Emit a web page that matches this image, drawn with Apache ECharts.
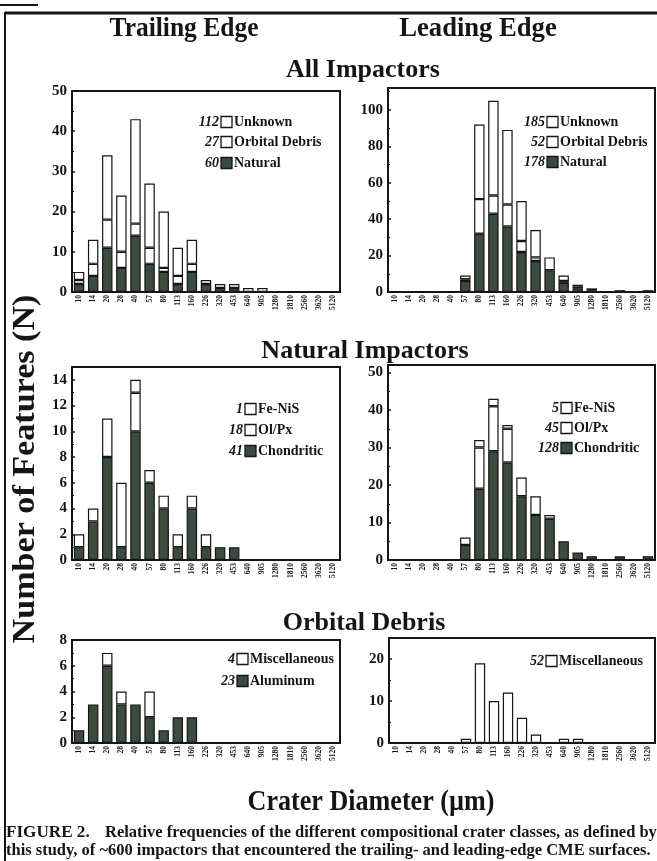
<!DOCTYPE html>
<html>
<head>
<meta charset="utf-8">
<title>Crater diameter frequencies</title>
<style>
  body { margin: 0; background: #fff; }
  #chart { width: 657px; height: 861px; }
</style>
</head>
<body>
<div id="chart"></div>
<script src="https://cdn.jsdelivr.net/npm/echarts@6/dist/echarts.min.js"></script>
<script>
// crater diameter bins (um)
const diameters = ['10', '14', '20', '28', '40', '57', '80', '113', '160', '226', '320', '453', '640', '905', '1280', '1810', '2560', '3620', '5120'];

// all impactors
const trailNatural = [2, 4, 11, 6, 14, 7, 5, 2, 5, 2, 1, 1, 0, 0, 0, 0, 0, 0, 0];
const trailDebris  = [1, 3, 7, 4, 3, 4, 1, 2, 2, 0, 0, 0, 0, 0, 0, 0, 0, 0, 0];
const trailUnknown = [2, 6, 16, 14, 26, 16, 14, 7, 6, 1, 1, 1, 1, 1, 0, 0, 0, 0, 0];
const leadNatural  = [0, 0, 0, 0, 0, 6, 32, 43, 36, 22, 17, 12, 5, 2, 1, 0, 1, 0, 1];
const leadDebris   = [0, 0, 0, 0, 0, 1, 19, 10, 12, 6, 2, 0, 1, 1, 0, 0, 0, 0, 0];
const leadUnknown  = [0, 0, 0, 0, 0, 2, 41, 52, 41, 22, 15, 7, 3, 1, 1, 0, 0, 0, 0];

// natural impactors
const trailChond = [1, 3, 8, 1, 10, 6, 4, 1, 4, 1, 1, 1, 0, 0, 0, 0, 0, 0, 0];
const trailOlPx  = [1, 1, 3, 5, 3, 1, 1, 1, 1, 1, 0, 0, 0, 0, 0, 0, 0, 0, 0];
const trailFeNiS = [0, 0, 0, 0, 1, 0, 0, 0, 0, 0, 0, 0, 0, 0, 0, 0, 0, 0, 0];
const leadChond  = [0, 0, 0, 0, 0, 4, 19, 29, 26, 17, 12, 11, 5, 2, 1, 0, 1, 0, 1];
const leadOlPx   = [0, 0, 0, 0, 0, 2, 11, 12, 9, 5, 5, 1, 0, 0, 0, 0, 0, 0, 0];
const leadFeNiS  = [0, 0, 0, 0, 0, 0, 2, 2, 1, 0, 0, 0, 0, 0, 0, 0, 0, 0, 0];

// orbital debris
const trailAl   = [1, 3, 6, 3, 3, 2, 1, 2, 2, 0, 0, 0, 0, 0, 0, 0, 0, 0, 0];
const trailMisc = [0, 0, 1, 1, 0, 2, 0, 0, 0, 0, 0, 0, 0, 0, 0, 0, 0, 0, 0];
const leadMisc  = [0, 0, 0, 0, 0, 1, 19, 10, 12, 6, 2, 0, 1, 1, 0, 0, 0, 0, 0];

const SERIF = '"Liberation Serif", "DejaVu Serif", serif';
const INK = '#151515';
const DARK = '#3d4a40';
const WHITE = '#ffffff';

// each stack is listed bottom to top
const panels = [
  { left: 72, top: 91, width: 268, height: 201, max: 50, step: 10,
    stack: [[trailNatural, 'Natural', DARK], [trailDebris, 'Orbital Debris', WHITE], [trailUnknown, 'Unknown', WHITE]],
    keyX: 219, keyY: [122, 142, 163] },
  { left: 388, top: 88, width: 267, height: 204, max: 112, step: 20,
    stack: [[leadNatural, 'Natural', DARK], [leadDebris, 'Orbital Debris', WHITE], [leadUnknown, 'Unknown', WHITE]],
    keyX: 545, keyY: [122, 142, 162] },
  { left: 72, top: 367, width: 268, height: 193, max: 15, step: 2,
    stack: [[trailChond, 'Chondritic', DARK], [trailOlPx, 'Ol/Px', WHITE], [trailFeNiS, 'Fe-NiS', WHITE]],
    keyX: 243, keyY: [409, 430, 451] },
  { left: 388, top: 365, width: 267, height: 195, max: 52, step: 10,
    stack: [[leadChond, 'Chondritic', DARK], [leadOlPx, 'Ol/Px', WHITE], [leadFeNiS, 'Fe-NiS', WHITE]],
    keyX: 559, keyY: [408, 428, 448] },
  { left: 72, top: 640, width: 268, height: 103, max: 8, step: 2,
    stack: [[trailAl, 'Aluminum', DARK], [trailMisc, 'Miscellaneous', WHITE]],
    keyX: 235, keyY: [659, 681] },
  { left: 389, top: 638, width: 266, height: 105, max: 25, step: 10,
    stack: [[leadMisc, 'Miscellaneous', WHITE]],
    keyX: 544, keyY: [661] }
];

const sum = arr => arr.reduce((a, b) => a + b, 0);

const grids = [], xAxes = [], yAxes = [], series = [];
const graphic = [];

panels.forEach((p, i) => {
  grids.push({ left: p.left, top: p.top, width: p.width, height: p.height,
    show: true, borderColor: INK, borderWidth: 2, backgroundColor: 'transparent' });
  xAxes.push({
    type: 'category', gridIndex: i, data: diameters,
    axisLine: { lineStyle: { color: INK, width: 2 } },
    axisTick: { inside: true, alignWithLabel: true, length: 3, lineStyle: { color: INK, width: 1.5 } },
    axisLabel: { rotate: 90, interval: 0, fontSize: 7.5, fontWeight: 'bold', fontFamily: SERIF, color: INK, margin: 3 }
  });
  yAxes.push({
    type: 'value', gridIndex: i, min: 0, max: p.max, interval: p.step,
    axisLine: { show: true, lineStyle: { color: INK, width: 2 } },
    axisTick: { show: true, inside: true, length: 3, lineStyle: { color: INK, width: 1.5 } },
    minorTick: { show: true, splitNumber: 2, length: 2, lineStyle: { color: INK, width: 1.2 } },
    splitLine: { show: false },
    axisLabel: { fontFamily: SERIF, fontWeight: 'bold', fontSize: 15, color: INK, margin: 5,
      formatter: v => (v % p.step === 0 ? String(v) : '') }
  });
  p.stack.forEach(s => {
    series.push({
      type: 'bar', name: s[1], xAxisIndex: i, yAxisIndex: i, stack: 'p' + i,
      data: s[0].map(v => (v === 0 ? '-' : v)),
      barCategoryGap: '26%',
      itemStyle: { color: s[2], borderColor: INK, borderWidth: 1.2 },
      silent: true
    });
  });
  // key: top row is the top of the stack
  const rows = p.stack.slice().reverse();
  rows.forEach((s, r) => {
    const y = p.keyY[r];
    graphic.push({ type: 'text', x: p.keyX, y: y,
      style: { text: String(sum(s[0])), font: 'italic bold 14px ' + SERIF, fill: INK, textAlign: 'right', textVerticalAlign: 'middle' } });
    graphic.push({ type: 'rect', shape: { x: p.keyX + 2, y: y - 5.5, width: 11, height: 11 },
      style: { fill: s[2], stroke: INK, lineWidth: 1.3 } });
    graphic.push({ type: 'text', x: p.keyX + 15, y: y,
      style: { text: s[1], font: 'bold 14px ' + SERIF, fill: INK, textAlign: 'left', textVerticalAlign: 'middle' } });
  });
});

function label(text, x, y, size, extra) {
  return Object.assign({ type: 'text', x: x, y: y,
    style: { text: text, font: 'bold ' + size + 'px ' + SERIF, fill: INK, textAlign: 'center', textVerticalAlign: 'middle' } }, extra || {});
}

function caption(text, x, y, sx) {
  return { type: 'text', x: x, y: y, scaleX: sx,
    style: { text: text, font: 'bold 16px ' + SERIF, fill: INK, textAlign: 'left', textVerticalAlign: 'middle' } };
}

graphic.push(
  label('Trailing Edge', 184, 29, 28, { scaleX: 0.91 }),
  label('Leading Edge', 478, 29, 28, { scaleX: 0.95 }),
  label('All Impactors', 363, 70, 26),
  label('Natural Impactors', 365, 351, 26),
  label('Orbital Debris', 364, 623, 26),
  label('Crater Diameter (\u00b5m)', 371, 802, 30, { scaleX: 0.87 }),
  label('Number of Features (N)', 26, 469, 31, { rotation: Math.PI / 2, scaleX: 1.1 }),
  caption('FIGURE 2.', 6, 833, 1.07),
  caption('Relative frequencies of the different compositional crater classes, as defined by', 105, 833, 1.03),
  caption('this study, of ~600 impactors that encountered the trailing- and leading-edge CME surfaces.', 6, 851, 1.03),
  { type: 'line', shape: { x1: 5, y1: 13, x2: 657, y2: 13 }, style: { stroke: INK, lineWidth: 3 } },
  { type: 'line', shape: { x1: 5, y1: 12, x2: 5, y2: 861 }, style: { stroke: INK, lineWidth: 2 } },
  { type: 'line', shape: { x1: 0, y1: 5, x2: 38, y2: 5 }, style: { stroke: INK, lineWidth: 2 } }
);

const chart = echarts.init(document.getElementById('chart'), null, { renderer: 'canvas' });
chart.setOption({
  animation: false,
  backgroundColor: '#ffffff',
  grid: grids,
  xAxis: xAxes,
  yAxis: yAxes,
  series: series,
  graphic: graphic
});
</script>
</body>
</html>
